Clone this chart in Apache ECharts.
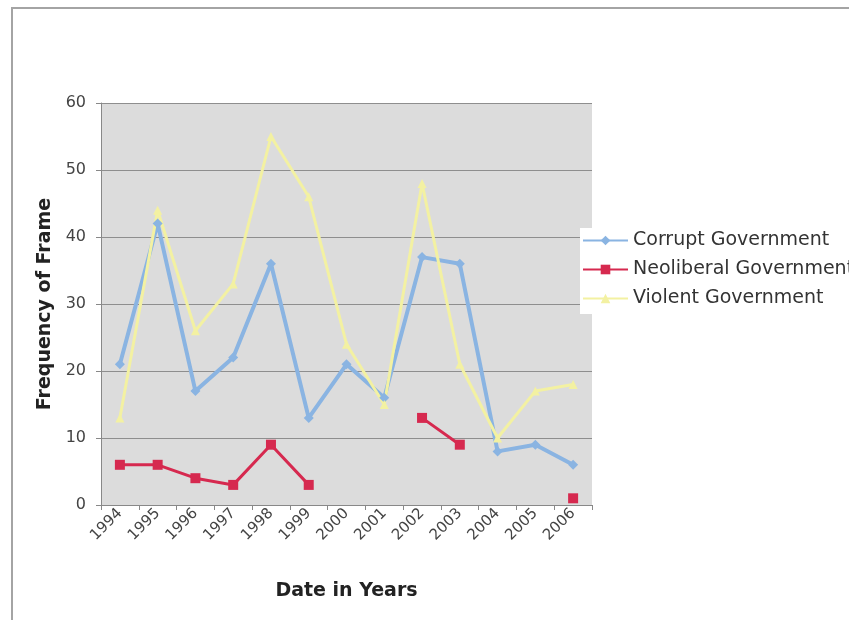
<!DOCTYPE html>
<html>
<head>
<meta charset="utf-8">
<script src="https://cdn.jsdelivr.net/npm/echarts@6/dist/echarts.min.js"></script>
<style>
html,body{margin:0;padding:0;background:#fff;}
#chart{width:849px;height:620px;}
</style>
</head>
<body>
<div id="chart"></div>
<script>
const years = ['1994','1995','1996','1997','1998','1999','2000','2001','2002','2003','2004','2005','2006'];
const corrupt = [21, 42, 17, 22, 36, 13, 21, 16, 37, 36, 8, 9, 6];
const neoliberal = [6, 6, 4, 3, 9, 3, null, null, 13, 9, null, null, 1];
const violent = [13, 44, 26, 33, 55, 46, 24, 15, 48, 21, 10, 17, 18];
const yTicks = {min: 0, max: 60, interval: 10};

const font = 'DejaVu Sans, Verdana, sans-serif';
const chart = echarts.init(document.getElementById('chart'));
chart.setOption({
  animation: false,
  backgroundColor: '#fff',
  graphic: [{
    type: 'rect', z: 100,
    shape: {x: 12, y: 8, width: 900, height: 700},
    style: {fill: 'none', stroke: '#a4a4a4', lineWidth: 2}
  }],
  grid: {left: 101, right: 257, top: 103, bottom: 115, outerBoundsMode: 'none',
         show: true, backgroundColor: '#dcdcdc', borderWidth: 0},
  legend: {
    orient: 'vertical', left: 580, top: 228, itemGap: 10,
    itemWidth: 45, itemHeight: 12, padding: [3, 0, 6, 2],
    backgroundColor: '#fff',
    textStyle: {fontFamily: font, fontSize: 19, color: '#333'},
    data: ['Corrupt Government', 'Neoliberal Government', 'Violent Government']
  },
  xAxis: {
    type: 'category', data: years, boundaryGap: true,
    name: 'Date in Years', nameLocation: 'middle', nameGap: 77,
    nameTextStyle: {fontFamily: font, fontSize: 19, fontWeight: 'bold', color: '#222'},
    axisLine: {lineStyle: {color: '#888', width: 1}},
    axisTick: {show: true, length: 5, lineStyle: {color: '#888'}},
    axisLabel: {rotate: 45, fontFamily: font, fontSize: 15, color: '#444', margin: 6, interval: 0},
    splitLine: {show: false}
  },
  yAxis: {
    type: 'value', min: yTicks.min, max: yTicks.max, interval: yTicks.interval,
    name: 'Frequency of Frame', nameLocation: 'middle', nameGap: 45, nameRotate: 90,
    nameTextStyle: {fontFamily: font, fontSize: 19, fontWeight: 'bold', color: '#222'},
    axisLine: {show: true, lineStyle: {color: '#888', width: 1}},
    axisTick: {show: true, length: 5, lineStyle: {color: '#888'}},
    axisLabel: {fontFamily: font, fontSize: 16, color: '#444', margin: 15},
    splitLine: {lineStyle: {color: '#8e8e8e', width: 1}}
  },
  series: [
    {name: 'Corrupt Government', type: 'line', data: corrupt,
     color: '#8ab4e2', symbol: 'diamond', symbolSize: 10,
     lineStyle: {width: 4, color: '#8ab4e2'}, itemStyle: {color: '#8ab4e2'}},
    {name: 'Neoliberal Government', type: 'line', data: neoliberal, connectNulls: false,
     color: '#d6294f', symbol: 'rect', symbolSize: 10,
     lineStyle: {width: 3, color: '#d6294f'}, itemStyle: {color: '#d6294f'}},
    {name: 'Violent Government', type: 'line', data: violent,
     color: '#f3f1a2', symbol: 'triangle', symbolSize: 9,
     lineStyle: {width: 3, color: '#f3f1a2'}, itemStyle: {color: '#f3f1a2'}}
  ]
});
</script>
</body>
</html>
